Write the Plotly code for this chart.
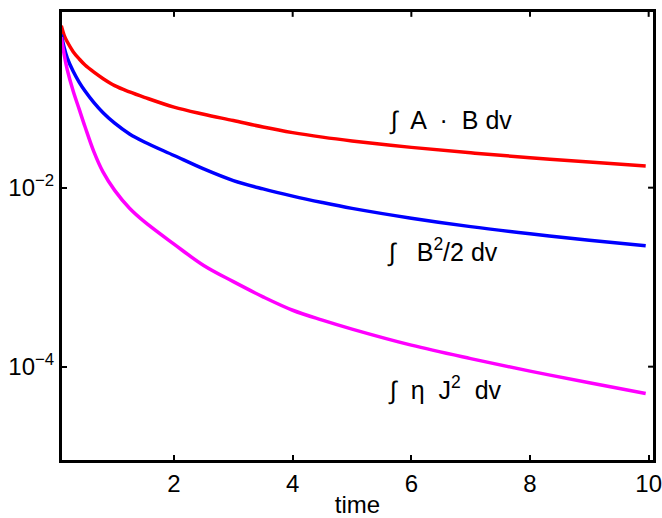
import math
import plotly.graph_objects as go

# time samples
time = [0.1, 0.15, 0.2, 0.3, 0.4, 0.5, 0.65, 0.8, 1.0, 1.25, 1.5, 2.0, 2.5, 3.0,
        3.5, 4.0, 4.5, 5.0, 6.0, 7.0, 8.0, 9.0, 9.95]

# integral A.B dv (red)
helicity = [0.6457, 0.5012, 0.4266, 0.3311, 0.2754, 0.2344, 0.1950, 0.1660, 0.1380, 0.1175,
            0.1023, 0.0794, 0.0661, 0.0562, 0.0476, 0.0412, 0.0367, 0.0333, 0.0282, 0.0245,
            0.0216, 0.0193, 0.0175]
# integral B^2/2 dv (blue)
energy = [0.5129, 0.3631, 0.2818, 0.1995, 0.1514, 0.1202, 0.0891, 0.0692, 0.0525, 0.0398,
          0.0324, 0.0229, 0.0162, 0.0120, 0.00968, 0.00804, 0.00682, 0.00587, 0.00456,
          0.00367, 0.00305, 0.00258, 0.00224]
# integral eta J^2 dv (magenta)
dissipation = [0.4786, 0.3020, 0.2089, 0.1202, 0.0759, 0.0479, 0.0251, 0.0151, 0.00933,
               0.00589, 0.00417, 0.00234, 0.00135, 0.000891, 0.000603, 0.000427, 0.000331,
               0.000263, 0.000174, 0.000123, 0.0000891, 0.0000661, 0.0000501]

x_ticks = [2, 4, 6, 8, 10]
y_ticks = [1e-2, 1e-4]
y_tick_text = ["10<sup>−2</sup>", "10<sup>−4</sup>"]

labels = ["∫  A  ·  B dv", "∫   B<sup>2</sup>/2 dv", "∫  η  J<sup>2</sup>  dv"]
label_x = [5.59, 5.56, 5.58]
label_y = [-1.244, -2.70, -4.24]  # log10 positions

X_RANGE = [0.095, 10.09]
Y_RANGE = [-5.054, -0.026]

FONT = "Liberation Sans, Arial, Helvetica, sans-serif"

fig = go.Figure()
for y, c in [(helicity, "#ff0000"), (energy, "#0000ff"), (dissipation, "#ff00ff")]:
    fig.add_trace(go.Scatter(x=time, y=y, mode="lines",
                             line=dict(color=c, width=3.5, shape="spline", smoothing=1.0),
                             showlegend=False, hoverinfo="skip"))

for t, lx, ly in zip(labels, label_x, label_y):
    fig.add_annotation(x=lx, y=ly, xref="x", yref="y", text=t, showarrow=False,
                       xanchor="left", yanchor="middle",
                       font=dict(size=25, color="black", family=FONT))

# box frame around the plot area
fig.add_shape(type="rect", xref="paper", yref="paper", x0=0, x1=1, y0=0, y1=1,
              line=dict(color="black", width=2), fillcolor="rgba(0,0,0,0)", layer="above")
# mirrored tick marks on the top edge
for xv in x_ticks:
    fig.add_shape(type="line", xref="x", yref="paper", x0=xv, x1=xv, y0=1, y1=0.987,
                  line=dict(color="black", width=2), layer="above")
# mirrored tick marks on the right edge (position derived from the log axis range)
for yv in y_ticks:
    yp = (math.log10(yv) - Y_RANGE[0]) / (Y_RANGE[1] - Y_RANGE[0])
    fig.add_shape(type="line", xref="paper", yref="paper", x0=1, x1=0.99, y0=yp, y1=yp,
                  line=dict(color="black", width=2), layer="above")

axis_common = dict(showline=True, linecolor="black", linewidth=2, mirror=True, ticks="inside",
                   ticklen=6, tickwidth=2, tickcolor="black", showgrid=False, zeroline=False,
                   automargin=False, ticklabeloverflow="allow",
                   tickfont=dict(size=24, color="black", family=FONT))

fig.update_layout(
    xaxis=dict(range=X_RANGE, tickvals=x_ticks, ticktext=[str(v) for v in x_ticks],
               title=dict(text="time", font=dict(size=24, color="black", family=FONT), standoff=8),
               **axis_common),
    yaxis=dict(type="log", range=Y_RANGE, tickvals=y_ticks, ticktext=y_tick_text, **axis_common),
    width=662, height=518, margin=dict(l=61, r=8, t=11, b=57),
    plot_bgcolor="white", paper_bgcolor="white", font=dict(family=FONT),
    hovermode=False,
)

post = (
    "var s=document.createElement('style');"
    "s.textContent='html,body{margin:0;padding:0;overflow:hidden;}"
    "::-webkit-scrollbar{display:none;}';"
    "document.head.appendChild(s);"
    "document.body.style.margin='0';"
    "Plotly.relayout('{plot_id}', {});"
)

fig.write_html("out.html", post_script=post, config={"displayModeBar": False, "staticPlot": True})
